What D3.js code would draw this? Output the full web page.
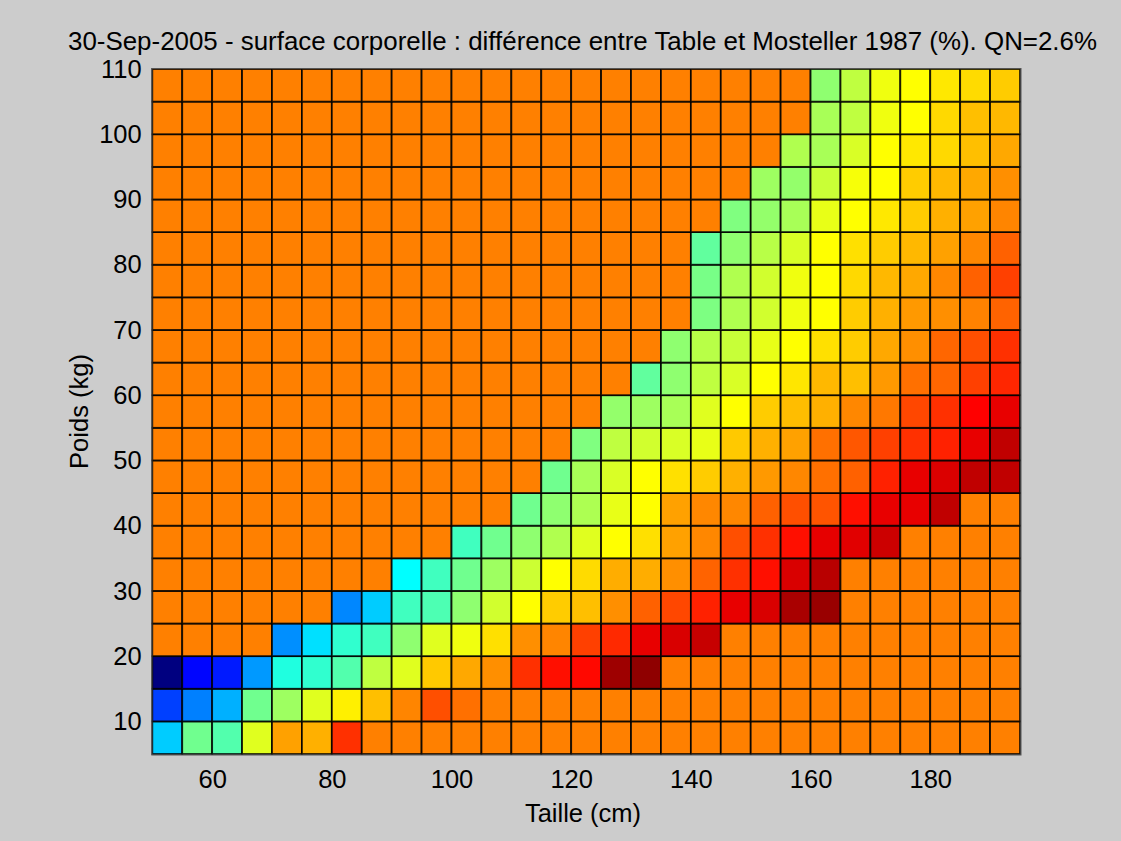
<!DOCTYPE html>
<html><head><meta charset="utf-8">
<script src="https://cdn.jsdelivr.net/npm/d3@7"></script>
<style>
html,body{margin:0;padding:0;background:#cccccc;}
svg{display:block;}
text{font-family:"Liberation Sans",Arial,Helvetica,sans-serif;fill:#000;}
</style></head><body>
<svg id="chart" width="1121" height="841"></svg>
<script>
// Column left edges: Taille (cm)
const heights = [50,55,60,65,70,75,80,85,90,95,100,105,110,115,120,125,130,135,140,145,150,155,160,165,170,175,180,185,190];
const heightEnd = 195;
// Row bottom edges: Poids (kg)
const weights = [5,10,15,20,25,30,35,40,45,50,55,60,65,70,75,80,85,90,95,100,105];
const weightEnd = 110;

// Difference (%) per weight row, one value per height column
const w005 = [-8.5,-5.3,-5.9,-3.1,-0.65,-0.95,1.55,0,0,0,0,0,0,0,0,0,0,0,0,0,0,0,0,0,0,0,0,0,0];
const w010 = [-11.25,-10,-9.05,-5.3,-4.4,-3.1,-2.2,-1.25,-0.1,0.95,0.3,0,0,0,0,0,0,0,0,0,0,0,0,0,0,0,0,0,0];
const w015 = [-15,-12.4,-12,-9.5,-6.9,-6.55,-5.9,-3.75,-3.1,-1.45,-0.8,-0.3,1.55,2.2,2.35,4.4,4.7,0,0,0,0,0,0,0,0,0,0,0,0];
const w020 = [0,0,0,0,-9.7,-8.1,-6.55,-6.25,-4.7,-3.1,-2.8,-1.9,-0.3,-0.1,1.25,1.7,2.95,3.25,3.6,0,0,0,0,0,0,0,0,0,0];
const w025 = [0,0,0,0,0,0,-9.85,-8.5,-6.25,-6.0,-4.7,-3.4,-2.5,-1.5,-1.25,-0.3,0.6,1.1,1.85,2.95,3.25,4.2,4.5,0,0,0,0,0,0];
const w030 = [0,0,0,0,0,0,0,0,-7.5,-6.25,-5.3,-4.4,-3.5,-2.5,-1.8,-0.9,-0.9,-0.3,0.55,1.55,2.2,3.25,3.9,0,0,0,0,0,0];
const w035 = [0,0,0,0,0,0,0,0,0,0,-6.25,-5.3,-4.7,-4.05,-3.1,-2.5,-1.9,-0.65,-0.15,0.95,1.55,2.2,3.0,3.1,3.5,0,0,0,0];
const w040 = [0,0,0,0,0,0,0,0,0,0,0,0,-5.3,-4.7,-4.1,-2.95,-2.5,-0.65,-0.15,-0.15,0.6,0.95,0.85,2.2,2.95,2.95,3.75,0,0];
const w045 = [0,0,0,0,0,0,0,0,0,0,0,0,0,-5.3,-4.2,-3.25,-2.5,-1.9,-1.5,-0.95,-0.5,-0.15,0.3,0.6,1.85,2.95,3.2,3.75,3.75];
const w050 = [0,0,0,0,0,0,0,0,0,0,0,0,0,0,-5.0,-3.75,-3.4,-3.25,-2.95,-1.45,-0.95,-0.65,0.3,0.8,1.25,1.55,1.85,2.95,3.75];
const w055 = [0,0,0,0,0,0,0,0,0,0,0,0,0,0,0,-4.6,-4.4,-4.2,-3.1,-2.5,-1.5,-1.2,-0.95,-0.15,0.15,1.1,1.55,2.5,2.95];
const w060 = [0,0,0,0,0,0,0,0,0,0,0,0,0,0,0,0,-5.6,-4.7,-3.75,-3.25,-2.5,-2.0,-1.1,-1.25,-0.5,0.3,0.5,1.25,1.75];
const w065 = [0,0,0,0,0,0,0,0,0,0,0,0,0,0,0,0,0,-4.7,-3.9,-3.6,-2.95,-2.5,-1.9,-1.5,-0.8,-0.3,0.5,0.95,1.55];
const w070 = [0,0,0,0,0,0,0,0,0,0,0,0,0,0,0,0,0,0,-5.05,-4.05,-3.4,-2.8,-2.5,-1.5,-0.95,-0.5,-0.3,-0.05,0.55];
const w075 = [0,0,0,0,0,0,0,0,0,0,0,0,0,0,0,0,0,0,-5.15,-4.05,-3.4,-2.8,-2.5,-1.75,-1.1,-0.8,-0.15,0.6,1.25];
const w080 = [0,0,0,0,0,0,0,0,0,0,0,0,0,0,0,0,0,0,-5.6,-4.7,-3.9,-3.25,-2.5,-1.9,-1.5,-1.1,-0.65,-0.15,0.6];
const w085 = [0,0,0,0,0,0,0,0,0,0,0,0,0,0,0,0,0,0,0,-5.0,-4.6,-4.2,-2.95,-2.5,-2.05,-1.5,-0.95,-0.65,-0.1];
const w090 = [0,0,0,0,0,0,0,0,0,0,0,0,0,0,0,0,0,0,0,0,-4.4,-4.6,-3.55,-2.65,-2.5,-1.5,-1.1,-0.8,-0.3];
const w095 = [0,0,0,0,0,0,0,0,0,0,0,0,0,0,0,0,0,0,0,0,0,-4.05,-4.2,-3.25,-2.5,-2.05,-1.75,-1.25,-0.8];
const w100 = [0,0,0,0,0,0,0,0,0,0,0,0,0,0,0,0,0,0,0,0,0,0,-4.2,-3.75,-2.8,-2.5,-1.75,-1.25,-1.1];
const w105 = [0,0,0,0,0,0,0,0,0,0,0,0,0,0,0,0,0,0,0,0,0,0,-4.7,-3.75,-2.8,-2.5,-2.05,-1.8,-1.5];
const diffRows = [w005,w010,w015,w020,w025,w030,w035,w040,w045,w050,w055,w060,w065,w070,w075,w080,w085,w090,w095,w100,w105];

const xTicks = [60,80,100,120,140,160,180];
const yTicks = [10,20,30,40,50,60,70,80,90,100,110];
const titleText = "30-Sep-2005 - surface corporelle : différence entre Table et Mosteller 1987 (%). QN=2.6%";
const xLabel = "Taille (cm)";
const yLabel = "Poids (kg)";
const colorLimits = [-15, 5];

const L = 152.3, R = 1020, T = 69, B = 754;
const FS = 25.5;

const svg = d3.select("#chart");
const x = d3.scaleLinear().domain([heights[0], heightEnd]).range([L, R]);
const y = d3.scaleLinear().domain([weights[0], weightEnd]).range([B, T]);

// jet colormap
const cmin = colorLimits[0], cmax = colorLimits[1], span = cmax - cmin;
const jet = d3.scaleLinear()
  .domain([cmin, cmin + span/8, cmin + 3*span/8, cmin + 5*span/8, cmin + 7*span/8, cmax])
  .range(["#000080","#0000ff","#00ffff","#ffff00","#ff0000","#800000"])
  .interpolate(d3.interpolateRgb).clamp(true);

const cells = [];
diffRows.forEach((row, r) => {
  row.forEach((v, c) => {
    const x0 = heights[c], x1 = c + 1 < heights.length ? heights[c+1] : heightEnd;
    const y0 = weights[r], y1 = r + 1 < weights.length ? weights[r+1] : weightEnd;
    cells.push({x0, x1, y0, y1, v});
  });
});

svg.append("g").selectAll("rect").data(cells).join("rect")
  .attr("x", d => x(d.x0))
  .attr("y", d => y(d.y1))
  .attr("width", d => x(d.x1) - x(d.x0))
  .attr("height", d => y(d.y0) - y(d.y1))
  .attr("fill", d => jet(d.v))
  .attr("stroke", "#000")
  .attr("stroke-opacity", 0.85)
  .attr("stroke-width", 1.8);

// axes box
svg.append("rect").attr("x", L - 0.5).attr("y", T - 0.5)
  .attr("width", R - L + 1.5).attr("height", B - T + 1.5)
  .attr("fill", "none").attr("stroke", "#555").attr("stroke-width", 1);

const xAxis = svg.append("g").attr("transform", `translate(0,${B})`)
  .call(d3.axisBottom(x).tickValues(xTicks).tickSize(0).tickPadding(16).tickFormat(d3.format("d")));
const yAxis = svg.append("g").attr("transform", `translate(${L},0)`)
  .call(d3.axisLeft(y).tickValues(yTicks).tickSize(0).tickPadding(10.6).tickFormat(d3.format("d")));
[xAxis, yAxis].forEach(g => {
  g.select(".domain").remove();
  g.selectAll("text").attr("font-family", '"Liberation Sans",Arial,sans-serif')
    .attr("font-size", FS).attr("fill", "#000");
});

svg.append("text").attr("x", 582.5).attr("y", 50).attr("text-anchor", "middle")
  .attr("font-size", FS).attr("textLength", 1029).attr("lengthAdjust", "spacingAndGlyphs")
  .text(titleText);
svg.append("text").attr("x", 583).attr("y", 822).attr("text-anchor", "middle")
  .attr("font-size", FS).text(xLabel);
svg.append("text").attr("transform", `translate(88,${(T + B) / 2}) rotate(-90)`)
  .attr("text-anchor", "middle").attr("font-size", FS).text(yLabel);
</script></body></html>
